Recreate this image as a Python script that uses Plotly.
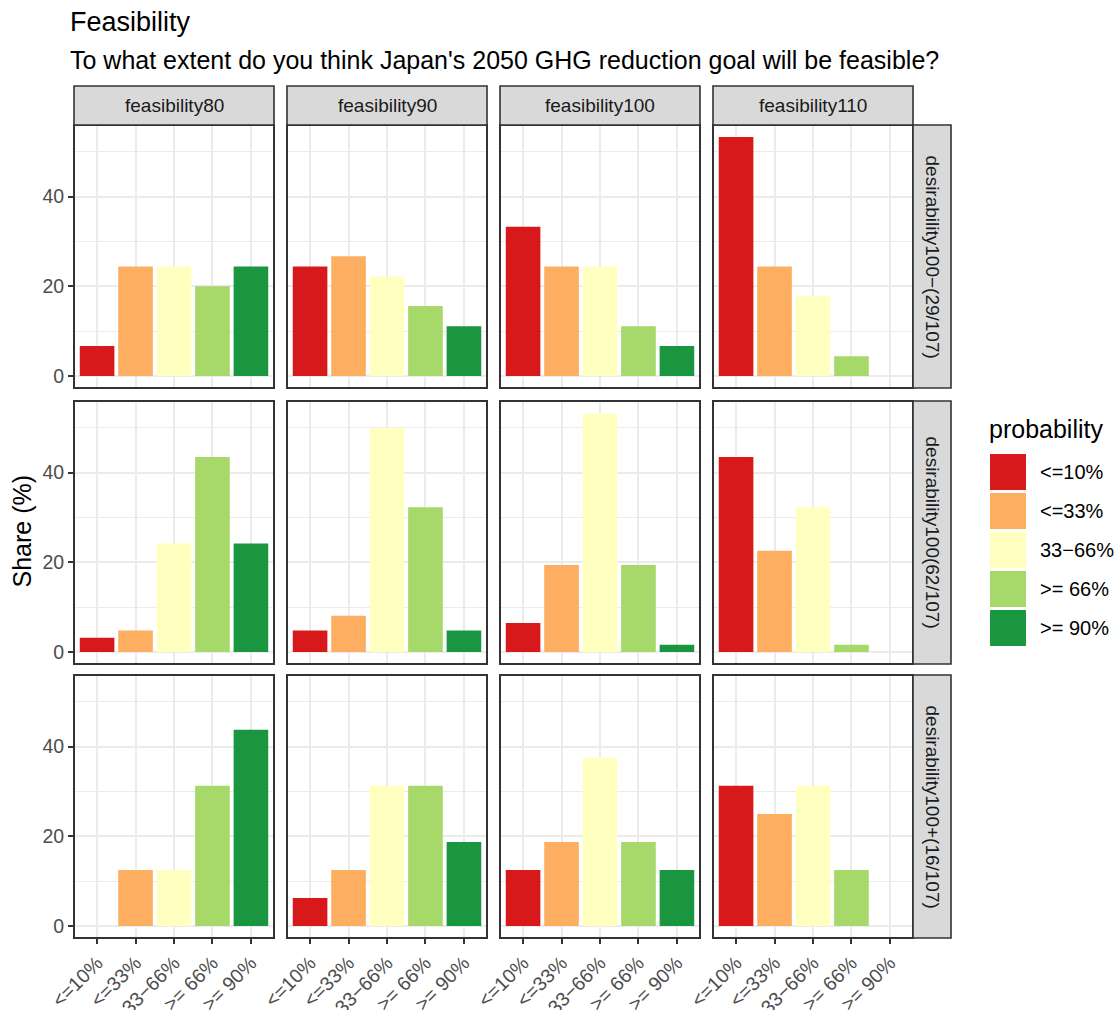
import plotly.graph_objects as go

# ---- data -------------------------------------------------------------
prob_levels = ["<=10%", "<=33%", "33−66%", ">= 66%", ">= 90%"]
prob_colors = ["#D7191C", "#FDAE61", "#FFFFBF", "#A6D96A", "#1A9641"]
feas_levels = ["feasibility80", "feasibility90", "feasibility100", "feasibility110"]
desir_levels = ["desirability100−(29/107)", "desirability100(62/107)", "desirability100+(16/107)"]

# share (%) of answers per probability class, one list per feasibility column
share_desir_minus = [
    [6.7, 24.4, 24.4, 20.0, 24.4],
    [24.4, 26.7, 22.2, 15.6, 11.1],
    [33.3, 24.4, 24.4, 11.1, 6.7],
    [53.3, 24.4, 17.8, 4.4, None],
]
share_desir_mid = [
    [3.2, 4.8, 24.2, 43.5, 24.2],
    [4.8, 8.1, 50.0, 32.3, 4.8],
    [6.5, 19.4, 53.2, 19.4, 1.6],
    [43.5, 22.6, 32.3, 1.6, None],
]
share_desir_plus = [
    [None, 12.5, 12.5, 31.25, 43.75],
    [6.25, 12.5, 31.25, 31.25, 18.75],
    [12.5, 18.75, 37.5, 18.75, 12.5],
    [31.25, 25.0, 31.25, 12.5, None],
]
y_ticks = [0, 20, 40]
y_minor = [10, 30, 50]

share_rows = [share_desir_minus, share_desir_mid, share_desir_plus]

# ---- page geometry (pixels) ------------------------------------------
W, H = 1118, 1010
col_left = [74, 287, 500, 713]
panel_w = 200
row_top = [125, 401, 675]
panel_h = 263
strip_h = 39
strip_w = 38

FONT = "Liberation Sans, Arial, Helvetica, sans-serif"
AXIS_TXT = "#4D4D4D"
BORDER = "#333333"
GRID = "#EBEBEB"
TICK_SIZE = 19.5
STRIP_SIZE = 19
LEGEND_SIZE = 20
BASE_SIZE = 25
TITLE_SIZE = 27


def fx(px):
    return px / W


def fy(py):
    return 1 - py / H


all_vals = [v for row in share_rows for panel in row for v in panel if v is not None]
ymax = max(all_vals)
pad = 0.05 * ymax
y_range = [-pad, ymax + pad]

fig = go.Figure()
shapes = []
annotations = []

for r, row in enumerate(share_rows):
    for c, vals in enumerate(row):
        k = r * 4 + c + 1
        xa = "xaxis" if k == 1 else f"xaxis{k}"
        ya = "yaxis" if k == 1 else f"yaxis{k}"
        xr = "x" if k == 1 else f"x{k}"
        yr = "y" if k == 1 else f"y{k}"

        fig.add_trace(go.Bar(
            x=prob_levels, y=vals, xaxis=xr, yaxis=yr,
            marker=dict(color=prob_colors, line=dict(width=0)),
            showlegend=False, hoverinfo="x+y",
        ))

        x0, x1 = col_left[c], col_left[c] + panel_w
        y0, y1 = row_top[r], row_top[r] + panel_h
        bottom = r == len(share_rows) - 1
        left = c == 0

        fig.layout[xa] = dict(
            domain=[fx(x0), fx(x1)], anchor=yr, automargin=False,
            type="category", categoryorder="array", categoryarray=prob_levels,
            range=[-0.6, len(prob_levels) - 0.4],
            showgrid=True, gridcolor=GRID, gridwidth=2,
            zeroline=False, showline=False,
            ticks="outside" if bottom else "", ticklen=5, tickwidth=2, tickcolor=BORDER,
            showticklabels=bottom, tickangle=-45,
            tickfont=dict(family=FONT, size=TICK_SIZE, color=AXIS_TXT),
            fixedrange=True,
        )
        fig.layout[ya] = dict(
            domain=[fy(y1), fy(y0)], anchor=xr, automargin=False,
            range=y_range, tickvals=y_ticks,
            showgrid=True, gridcolor=GRID, gridwidth=2,
            minor=dict(tickvals=y_minor, showgrid=True, gridcolor=GRID, gridwidth=1.3, ticks=""),
            zeroline=False, showline=False,
            ticks="outside" if left else "", ticklen=5, tickwidth=2, tickcolor=BORDER,
            showticklabels=left,
            tickfont=dict(family=FONT, size=TICK_SIZE, color=AXIS_TXT),
            fixedrange=True,
        )

        # panel border
        shapes.append(dict(type="rect", xref=f"{xr} domain", yref=f"{yr} domain",
                           x0=0, x1=1, y0=0, y1=1,
                           line=dict(color=BORDER, width=2), fillcolor="rgba(0,0,0,0)",
                           layer="above"))

# column strips
for c, name in enumerate(feas_levels):
    x0, x1 = col_left[c], col_left[c] + panel_w
    y0, y1 = row_top[0] - strip_h, row_top[0]
    shapes.append(dict(type="rect", xref="paper", yref="paper",
                       x0=fx(x0), x1=fx(x1), y0=fy(y1), y1=fy(y0),
                       fillcolor="#D9D9D9", line=dict(color=BORDER, width=1.6)))
    annotations.append(dict(text=name, x=fx((x0 + x1) / 2), y=fy((y0 + y1) / 2),
                            xref="paper", yref="paper", xanchor="center", yanchor="middle",
                            showarrow=False,
                            font=dict(family=FONT, size=STRIP_SIZE, color="#1A1A1A")))

# row strips
sx0 = col_left[-1] + panel_w
for r, name in enumerate(desir_levels):
    y0, y1 = row_top[r], row_top[r] + panel_h
    shapes.append(dict(type="rect", xref="paper", yref="paper",
                       x0=fx(sx0), x1=fx(sx0 + strip_w), y0=fy(y1), y1=fy(y0),
                       fillcolor="#D9D9D9", line=dict(color=BORDER, width=1.6)))
    annotations.append(dict(text=name, x=fx(sx0 + strip_w / 2), y=fy((y0 + y1) / 2),
                            xref="paper", yref="paper", xanchor="center", yanchor="middle",
                            textangle=90, showarrow=False,
                            font=dict(family=FONT, size=STRIP_SIZE, color="#1A1A1A")))

# legend (drawn as keys + labels)
leg_x = 990
leg_key = 36
leg_step = 39
leg_top = 454
annotations.append(dict(text="probability", x=fx(leg_x - 3), y=fy(429), xref="paper", yref="paper",
                        xanchor="left", yanchor="middle", showarrow=False,
                        font=dict(family=FONT, size=BASE_SIZE, color="black")))
for i, (lab, col) in enumerate(zip(prob_levels, prob_colors)):
    t = leg_top + i * leg_step
    shapes.append(dict(type="rect", xref="paper", yref="paper",
                       x0=fx(leg_x), x1=fx(leg_x + leg_key), y0=fy(t + leg_key), y1=fy(t),
                       fillcolor=col, line=dict(width=0)))
    annotations.append(dict(text=lab, x=fx(leg_x + 48), y=fy(t + leg_key / 2),
                            xref="paper", yref="paper", xanchor="left", yanchor="middle",
                            showarrow=False, font=dict(family=FONT, size=LEGEND_SIZE, color="black")))

# titles
annotations.append(dict(text="Feasibility", x=fx(68), y=fy(22), xref="paper", yref="paper",
                        xanchor="left", yanchor="middle", showarrow=False,
                        font=dict(family=FONT, size=TITLE_SIZE, color="black")))
annotations.append(dict(text="To what extent do you think Japan's 2050 GHG reduction goal will be feasible?",
                        x=fx(68), y=fy(60), xref="paper", yref="paper",
                        xanchor="left", yanchor="middle", showarrow=False,
                        font=dict(family=FONT, size=BASE_SIZE, color="black")))
annotations.append(dict(text="Share (%)", x=fx(21),
                        y=fy((row_top[0] + row_top[-1] + panel_h) / 2),
                        xref="paper", yref="paper", xanchor="center", yanchor="middle",
                        textangle=-90, showarrow=False,
                        font=dict(family=FONT, size=BASE_SIZE, color="black")))

fig.update_layout(
    width=W, height=H,
    margin=dict(l=0, r=0, t=0, b=0, autoexpand=False),
    paper_bgcolor="white", plot_bgcolor="white",
    bargap=0.1,
    showlegend=False,
    shapes=shapes, annotations=annotations,
    font=dict(family=FONT),
)

fig.write_html("out.html")
